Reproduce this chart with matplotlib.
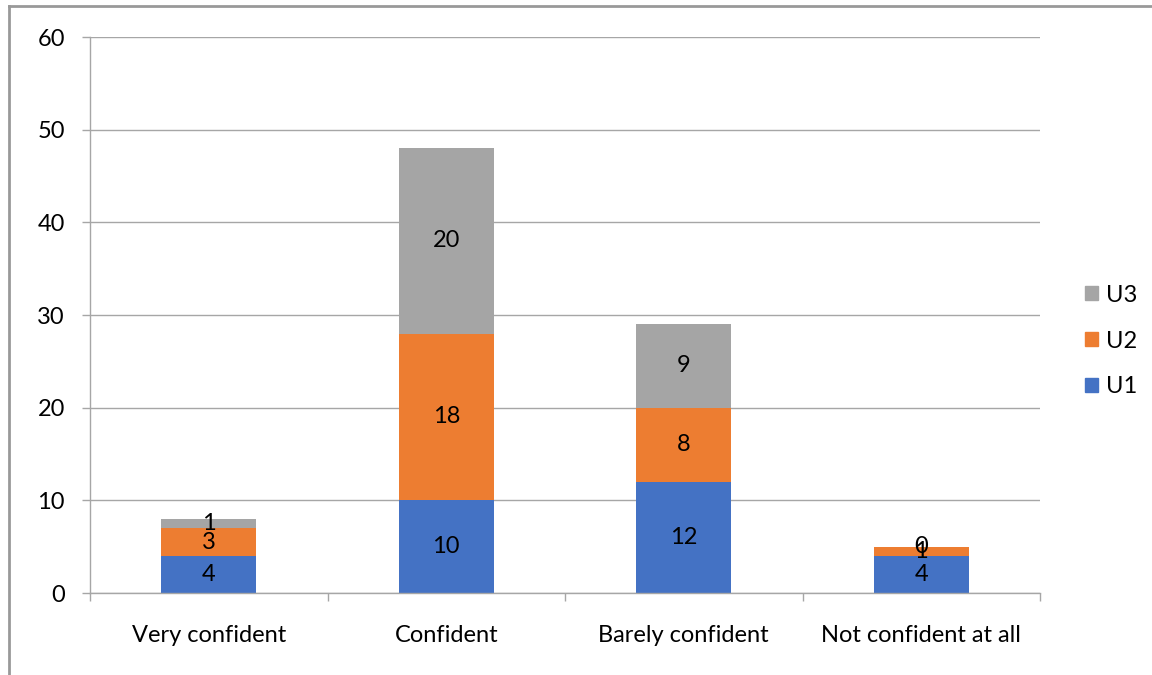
import matplotlib
matplotlib.use("Agg")
import matplotlib.pyplot as plt
from matplotlib.lines import Line2D
from matplotlib.patches import Patch
import numpy as np

categories = ['Very confident', 'Confident', 'Barely confident', 'Not confident at all']
u1 = [4, 10, 12, 4]
u2 = [3, 18, 8, 1]
u3 = [1, 20, 9, 0]

series = [('U1', u1, '#4472C4'), ('U2', u2, '#ED7D31'), ('U3', u3, '#A5A5A5')]

plt.rcParams['font.family'] = ['Lato', 'DejaVu Sans']
fs = 17

fig = plt.figure(figsize=(11.52, 6.75), dpi=100)
ax = fig.add_axes([90 / 1152, 1 - 593 / 675, 950 / 1152, 556 / 675])

x = np.arange(len(categories))
bottom = np.zeros(len(categories))
handles = []
for name, vals, col in series:
    bars = ax.bar(x, vals, 0.4, bottom=bottom, color=col, label=name, zorder=2)
    ax.bar_label(bars, labels=[str(v) for v in vals], label_type='center', fontsize=fs, color='black')
    bottom += np.array(vals)
    handles.append(Patch(color=col, label=name))

ax.set_xlim(-0.5, len(categories) - 0.5)
ax.set_ylim(0, 60)
ax.set_yticks(range(0, 61, 10))
ax.yaxis.grid(True, color='#A6A6A6', lw=1, zorder=0)
ax.set_axisbelow(True)

ax.set_xticks(x)
ax.set_xticklabels(categories, fontsize=fs)
ax.set_xticks(np.arange(-0.5, len(categories)), minor=True)
ax.tick_params(axis='x', which='major', length=0, pad=23)
ax.tick_params(axis='x', which='minor', length=6, color='#A6A6A6', width=1)
ax.tick_params(axis='y', length=6, color='#A6A6A6', width=1, pad=12, labelsize=fs)

for s in ['top', 'right']:
    ax.spines[s].set_visible(False)
for s in ['left', 'bottom']:
    ax.spines[s].set_color('#A6A6A6')
    ax.spines[s].set_linewidth(1)

fig.legend(handles=handles[::-1], loc='center left', bbox_to_anchor=(1064 / 1152, 1 - 341 / 675),
           frameon=False, fontsize=fs, handlelength=0.55, handleheight=0.55,
           handletextpad=0.35, labelspacing=1.05)

fig.add_artist(Line2D([9 / 1152, 9 / 1152], [0, 1 - 6 / 675], color='#999999', lw=2))
fig.add_artist(Line2D([9 / 1152, 1], [1 - 6 / 675, 1 - 6 / 675], color='#999999', lw=2))

fig.savefig('out.png', dpi=100)
